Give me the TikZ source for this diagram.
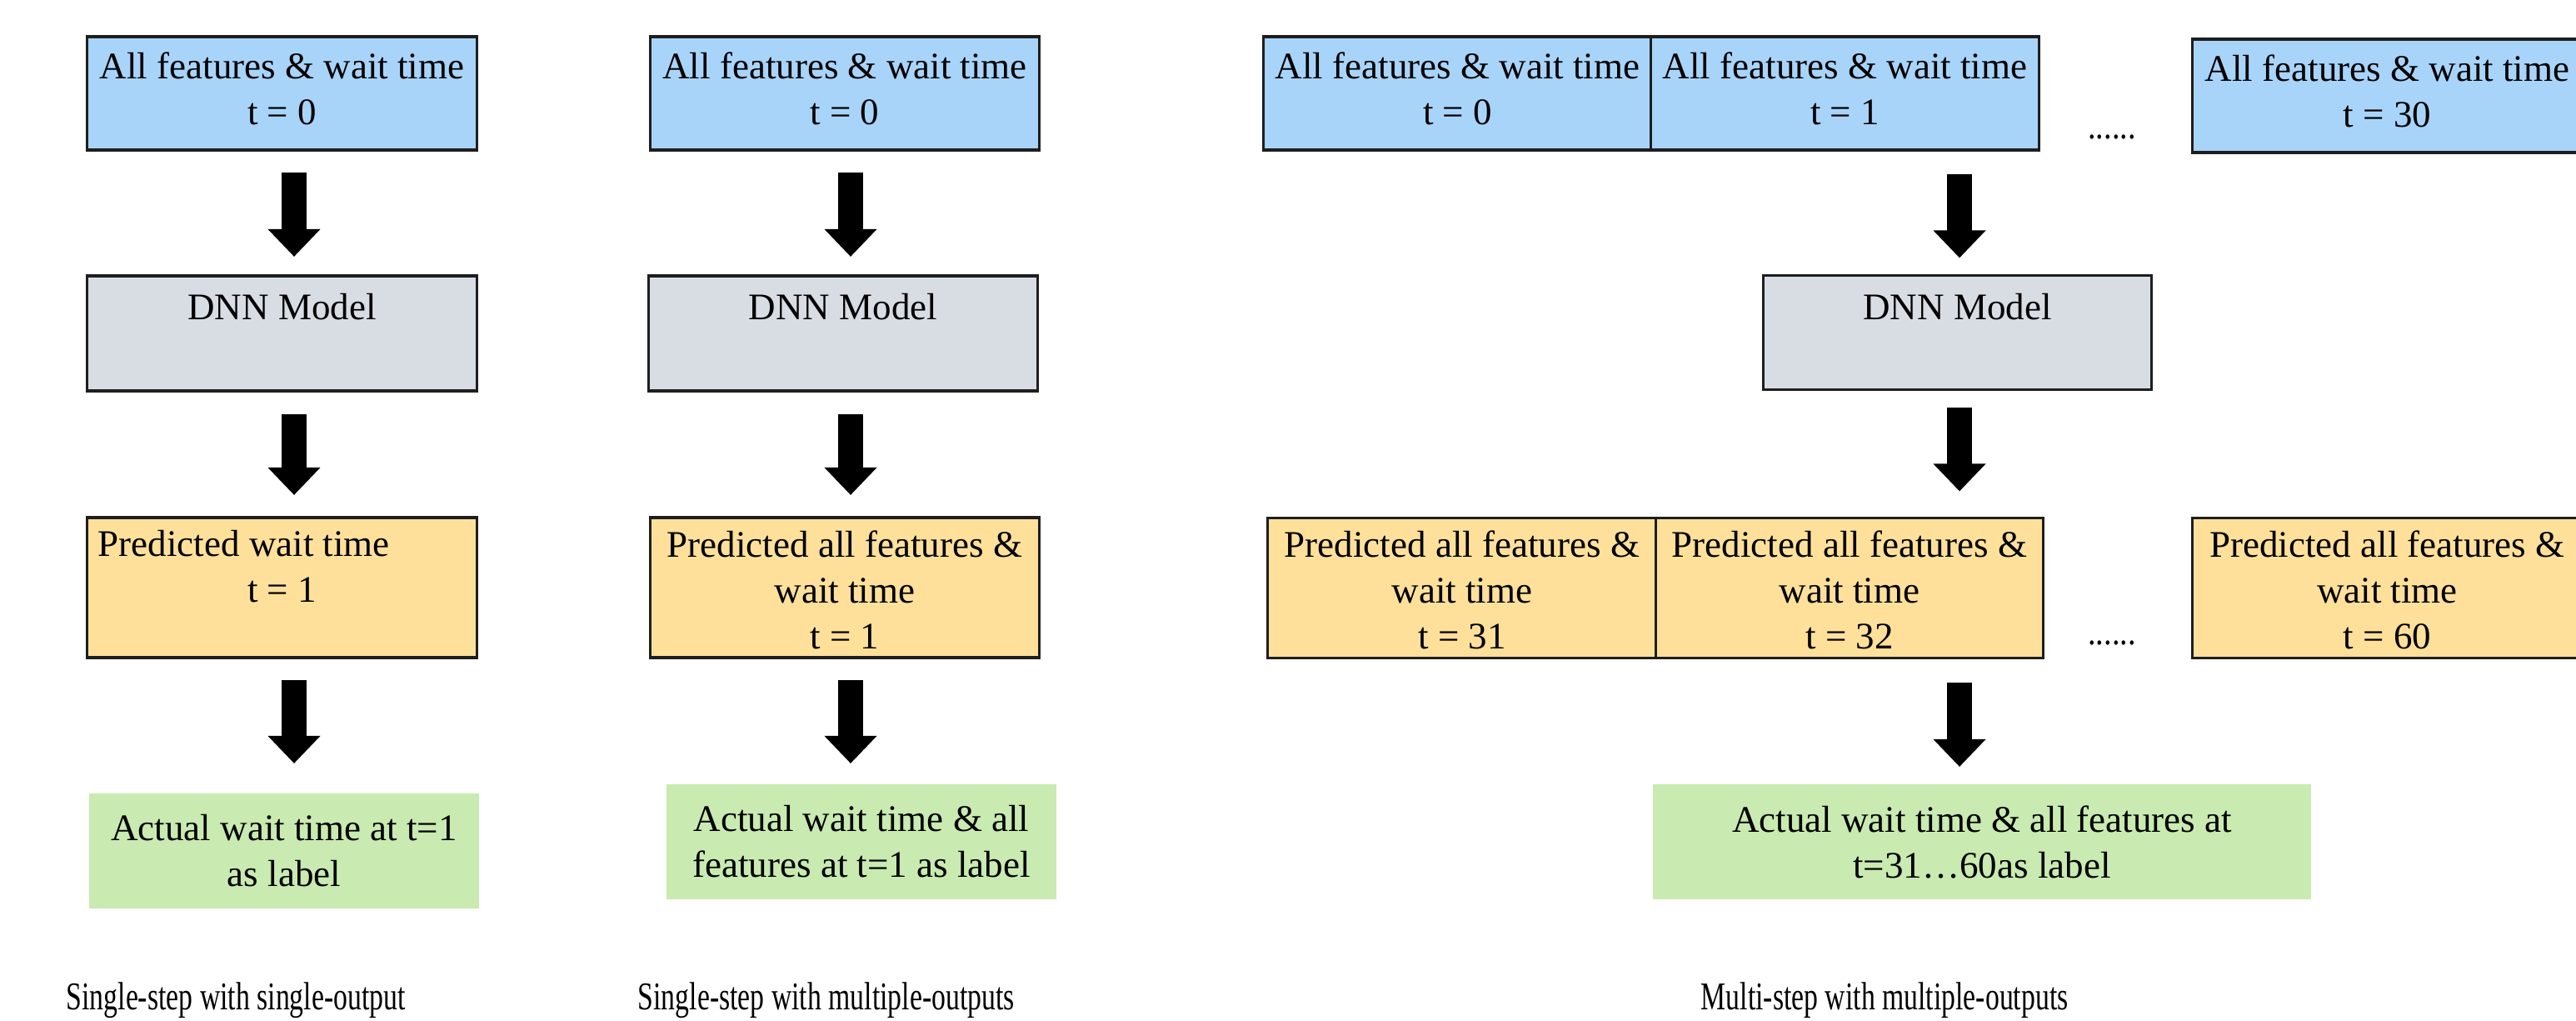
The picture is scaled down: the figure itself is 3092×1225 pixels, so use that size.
\documentclass[tikz,border=0pt]{standalone}
\usepackage{fontspec}
\setmainfont{Liberation Serif}
\usetikzlibrary{arrows.meta}
\definecolor{cblue}{HTML}{A9D4FA}
\definecolor{cgray}{HTML}{D8DDE4}
\definecolor{corange}{HTML}{FEE09B}
\definecolor{cgreen}{HTML}{C9EAB0}
\definecolor{cline}{HTML}{1E1E1E}
\newcommand{\captext}[1]{\scalebox{0.75}[1.05]{#1}}
\begin{document}
\begin{tikzpicture}[x=0.01cm,y=-0.01cm,
  box/.style={draw=cline, line width=0.9pt, minimum width=4.67cm, inner sep=0pt, outer sep=0pt},
  bluebox/.style={box, fill=cblue, minimum height=1.36cm},
  graybox/.style={box, fill=cgray, minimum height=1.38cm},
  orangebox/.style={box, fill=corange, minimum height=1.68cm},
  greenbox/.style={fill=cgreen, minimum width=4.68cm, minimum height=1.38cm, inner sep=0pt, outer sep=0pt},
  txt/.style={font=\fontsize{12.8pt}{15.65pt}\selectfont, align=center, inner sep=0pt, text=black},
  blockarrow/.style={line width=0.3cm, draw=black, -{Triangle[length=0.33cm,width=0.61cm]}}
]
\useasboundingbox (0,0) rectangle (3092,1225);
\fill[white] (0,0) rectangle (3092,1225);

% ---------- column 1 ----------
\node[bluebox] (b1) at (338.5,112) {};
\node[txt, anchor=north] (b1t) at ([yshift=-0.18cm]b1.north) {All features \& wait time\\t = 0};
\node[graybox] (d1) at (338.5,400) {};
\node[txt, anchor=north] (d1t) at ([yshift=-0.21cm]d1.north) {DNN Model};
\node[orangebox] (o1) at (338.5,705) {};
\node[txt, anchor=north] (o1t) at ([yshift=-0.15cm]o1.north) {\makebox[4.41cm][l]{Predicted wait time}\\t = 1};
\node[greenbox, txt] (g1) at (341,1021) {Actual wait time at t=1\\as label};
\node[txt, anchor=base west] (cap1) at (79,1211) {\captext{Single-step with single-output}};

% ---------- column 2 ----------
\node[bluebox] (b2) at (1014,112) {};
\node[txt, anchor=north] (b2t) at ([yshift=-0.18cm]b2.north) {All features \& wait time\\t = 0};
\node[graybox] (d2) at (1012,400) {};
\node[txt, anchor=north] (d2t) at ([yshift=-0.21cm]d2.north) {DNN Model};
\node[orangebox] (o2) at (1014,705) {};
\node[txt, anchor=north] (o2t) at ([yshift=-0.15cm]o2.north) {Predicted all features \&\\wait time\\t = 1};
\node[greenbox, txt] (g2) at (1034,1010) {Actual wait time \& all\\features at t=1 as label};
\node[txt, anchor=base west] (cap2) at (765,1211) {\captext{Single-step with multiple-outputs}};

% ---------- column 3 ----------
\node[bluebox, minimum width=4.65cm] (b30) at (1749.5,112) {};
\node[txt, anchor=north] (b30t) at ([yshift=-0.18cm]b30.north) {All features \& wait time\\t = 0};
\node[bluebox, minimum width=4.65cm] (b31) at (2214.5,112) {};
\node[txt, anchor=north] (b31t) at ([yshift=-0.18cm]b31.north) {All features \& wait time\\t = 1};
\node[bluebox] (b3n) at (2865.5,115) {};
\node[txt, anchor=north] (b3nt) at ([yshift=-0.18cm]b3n.north) {All features \& wait time\\t = 30};
\node[txt, anchor=base] (dots1) at (2535,167) {\scalebox{0.85}[1]{......}};

\node[graybox, minimum width=4.65cm, minimum height=1.37cm] (d3) at (2349.5,399) {};
\node[txt, anchor=north] (d3t) at ([yshift=-0.21cm]d3.north) {DNN Model};

\node[orangebox, minimum width=4.66cm] (o31) at (1755,705.5) {};
\node[txt, anchor=north] (o31t) at ([yshift=-0.15cm]o31.north) {Predicted all features \&\\wait time\\t = 31};
\node[orangebox, minimum width=4.64cm] (o32) at (2220,705.5) {};
\node[txt, anchor=north] (o32t) at ([yshift=-0.15cm]o32.north) {Predicted all features \&\\wait time\\t = 32};
\node[orangebox] (o3n) at (2865.5,705.5) {};
\node[txt, anchor=north] (o3nt) at ([yshift=-0.15cm]o3n.north) {Predicted all features \&\\wait time\\t = 60};
\node[txt, anchor=base] (dots2) at (2535,773) {\scalebox{0.85}[1]{......}};

\node[greenbox, txt, minimum width=7.90cm] (g3) at (2379,1010) {Actual wait time \& all features at\\t=31…60as label};
\node[txt, anchor=base west] (cap3) at (2041,1211) {\captext{Multi-step with multiple-outputs}};

% ---------- arrows ----------
\coordinate (c1) at (353,0);
\coordinate (c2) at (1021,0);
\coordinate (c3) at (2352,0);
\draw[blockarrow, shorten <=0.27cm, shorten >=0.23cm] (b1.south -| c1) -- (d1.north -| c1);
\draw[blockarrow, shorten <=0.28cm, shorten >=0.27cm] (d1.south -| c1) -- (o1.north -| c1);
\draw[blockarrow, shorten <=0.27cm, shorten >=0.36cm] (o1.south -| c1) -- (g1.north -| c1);

\draw[blockarrow, shorten <=0.27cm, shorten >=0.23cm] (b2.south -| c2) -- (d2.north -| c2);
\draw[blockarrow, shorten <=0.28cm, shorten >=0.27cm] (d2.south -| c2) -- (o2.north -| c2);
\draw[blockarrow, shorten <=0.27cm, shorten >=0.25cm] (o2.south -| c2) -- (g2.north -| c2);

\draw[blockarrow, shorten <=0.29cm, shorten >=0.21cm] (b31.south -| c3) -- (d3.north -| c3);
\draw[blockarrow, shorten <=0.215cm, shorten >=0.32cm] (d3.south -| c3) -- (o32.north -| c3);
\draw[blockarrow, shorten <=0.295cm, shorten >=0.21cm] (o32.south -| c3) -- (g3.north -| c3);
\end{tikzpicture}
\end{document}
